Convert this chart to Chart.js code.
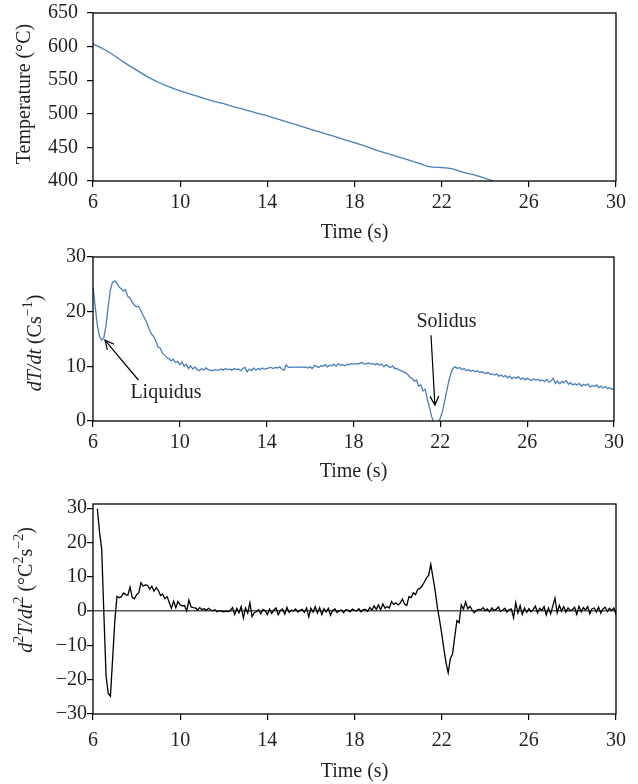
<!DOCTYPE html>
<html lang="en">

<head>
    <meta charset="UTF-8" />
    <title>Cooling curve - T, dT/dt, d2T/dt2</title>
    <script src="https://cdn.jsdelivr.net/npm/chart.js"></script>
    <style>
        body { margin: 0; background: #fff; }
        canvas { display: block; }
    </style>
</head>

<body>
    <canvas id="temp" width="638" height="246"></canvas>
    <canvas id="rate" width="638" height="244"></canvas>
    <canvas id="accel" width="638" height="294"></canvas>

    <script>
        // ---- data ----
        const timeTicks = [6, 10, 14, 18, 22, 26, 30];
        const tempTicks = [400, 450, 500, 550, 600, 650];
        const rateTicks = [0, 10, 20, 30];
        const accelTicks = [-30, -20, -10, 0, 10, 20, 30];

        const tempTimes = [6, 6.5, 7, 7.5, 8, 8.5, 9, 9.5, 10, 10.5, 11, 11.5, 12, 12.5, 13, 13.5, 14, 14.5,
            15, 15.5, 16, 16.5, 17, 17.5, 18, 18.5, 19, 19.5, 20, 20.5, 21, 21.5, 22, 22.5, 23, 23.5, 24, 24.4];
        const temperature = [604, 596, 586, 575, 565, 555, 547, 540, 534, 529, 524, 519, 515, 510, 506, 501, 497, 492,
            487, 482, 477, 472, 467, 462, 457, 452, 446, 441, 436, 431, 426, 421, 420, 418, 413, 409, 404, 400];

        const rateTimes = [
            6.0, 6.1, 6.2, 6.3, 6.4, 6.5, 6.6, 6.7, 6.8, 6.9,
            7.0, 7.1, 7.2, 7.3, 7.4, 7.5, 7.6, 7.7, 7.8, 7.9,
            8.0, 8.1, 8.2, 8.3, 8.4, 8.5, 8.6, 8.7, 8.8, 8.9,
            9.0, 9.1, 9.2, 9.3, 9.4, 9.5, 9.6, 9.7, 9.8, 9.9,
            10.0, 10.1, 10.2, 10.3, 10.4, 10.5, 10.6, 10.7, 10.8, 10.9,
            11.0, 11.1, 11.2, 11.3, 11.4, 11.5, 11.6, 11.7, 11.8, 11.9,
            12.0, 12.1, 12.2, 12.3, 12.4, 12.5, 12.6, 12.7, 12.8, 12.9,
            13.0, 13.1, 13.2, 13.3, 13.4, 13.5, 13.6, 13.7, 13.8, 13.9,
            14.0, 14.1, 14.2, 14.3, 14.4, 14.5, 14.6, 14.7, 14.8, 14.9,
            15.0, 15.1, 15.2, 15.3, 15.4, 15.5, 15.6, 15.7, 15.8, 15.9,
            16.0, 16.1, 16.2, 16.3, 16.4, 16.5, 16.6, 16.7, 16.8, 16.9,
            17.0, 17.1, 17.2, 17.3, 17.4, 17.5, 17.6, 17.7, 17.8, 17.9,
            18.0, 18.1, 18.2, 18.3, 18.4, 18.5, 18.6, 18.7, 18.8, 18.9,
            19.0, 19.1, 19.2, 19.3, 19.4, 19.5, 19.6, 19.7, 19.8, 19.9,
            20.0, 20.1, 20.2, 20.3, 20.4, 20.5, 20.6, 20.7, 20.8, 20.9,
            21.0, 21.1, 21.2, 21.3, 21.4, 21.5, 21.6, 21.7, 21.8, 21.9,
            22.0, 22.1, 22.2, 22.3, 22.4, 22.5, 22.6, 22.7, 22.8, 22.9,
            23.0, 23.1, 23.2, 23.3, 23.4, 23.5, 23.6, 23.7, 23.8, 23.9,
            24.0, 24.1, 24.2, 24.3, 24.4, 24.5, 24.6, 24.7, 24.8, 24.9,
            25.0, 25.1, 25.2, 25.3, 25.4, 25.5, 25.6, 25.7, 25.8, 25.9,
            26.0, 26.1, 26.2, 26.3, 26.4, 26.5, 26.6, 26.7, 26.8, 26.9,
            27.0, 27.1, 27.2, 27.3, 27.4, 27.5, 27.6, 27.7, 27.8, 27.9,
            28.0, 28.1, 28.2, 28.3, 28.4, 28.5, 28.6, 28.7, 28.8, 28.9,
            29.0, 29.1, 29.2, 29.3, 29.4, 29.5, 29.6, 29.7, 29.8, 29.9,
            30.0];

        const coolingRate = [
            24.5, 21, 17.5, 15.5, 14.8, 15.2, 17.5, 21, 24, 25.4,
            25.6, 25.2, 24.5, 24.2, 23.8, 24.0, 22.8, 22.5, 21.8, 21.2,
            20.9, 21.0, 20.2, 19.4, 18.6, 17.8, 16.6, 15.9, 15.4, 14.6,
            13.5, 13.3, 12.4, 12.0, 11.6, 11.4, 11.0, 11.3, 10.7, 10.9,
            10.3, 10.8, 10.0, 10.4, 9.6, 10.1, 9.5, 9.9, 9.4, 9.2,
            9.6, 9.3, 9.7, 9.4, 9.3, 9.2, 9.4, 9.3, 9.3, 9.5,
            9.3, 9.6, 9.4, 9.5, 9.3, 9.6, 9.4, 9.5, 9.2, 9.6,
            9.8, 9.0, 9.5, 9.2, 9.7, 9.3, 9.6, 9.4, 9.7, 9.5,
            9.6, 9.7, 9.8, 9.6, 9.8, 9.7, 9.9, 9.5, 9.3, 10.3,
            9.8, 9.8, 9.9, 9.8, 9.9, 9.8, 9.9, 9.8, 9.9, 9.7,
            9.9, 9.6, 10.2, 10.0, 9.8, 10.1, 10.0, 10.3, 9.9, 10.2,
            10.1, 10.4, 10.0, 10.5, 10.2, 10.3, 10.1, 10.4, 10.3, 10.5,
            10.4, 10.5, 10.4, 10.6, 10.7, 10.4, 10.5, 10.6, 10.4, 10.5,
            10.3, 10.5, 10.2, 10.4, 9.9, 10.3, 10.0, 9.8, 10.1, 9.6,
            9.6, 9.3, 9.2, 9.0, 8.8, 8.5, 8.0, 7.8, 7.3, 7.5,
            6.4, 6.6, 5.5, 5.8, 4.0, 2.5, 0.8, -0.3, -0.5, -0.2,
            0.5, 1.8, 3.6, 5.6, 7.5, 8.9, 9.7, 9.9, 9.6, 9.8,
            9.4, 9.6, 9.2, 9.4, 9.1, 9.3, 9.0, 9.2, 8.9, 9.0,
            8.8, 8.7, 8.9, 8.5, 8.6, 8.4, 8.6, 8.2, 8.4, 8.1,
            8.3, 7.9, 8.2, 7.7, 8.0, 7.8, 8.1, 7.6, 7.9, 7.5,
            7.8, 7.6, 7.4, 7.7, 7.5, 7.6, 7.3, 7.5, 7.2, 7.6,
            7.1, 7.3, 7.8, 6.9, 7.3, 6.8, 7.2, 7.0, 7.4, 6.7,
            7.0, 6.6, 6.8, 6.6, 6.9, 6.4, 6.7, 6.5, 6.8, 6.2,
            6.5, 6.3, 6.6, 6.1, 6.4, 6.0, 6.3, 5.9, 6.1, 5.8,
            5.9];

        // second derivative starts at 6.2 s
        const accelTimes = rateTimes.slice(2);
        const secondDeriv = [
            29.8, 23, 18, -1, -19, -24, -24.8, -14,
            -3, 4.3, 3.9, 4.2, 5.3, 4.8, 4.6, 7.0, 4.0, 3.6,
            4.8, 5.3, 8.3, 7.3, 7.6, 7.5, 6.4, 7.2, 5.8, 6.8,
            6.0, 4.5, 4.9, 3.6, 4.2, 2.5, 0.8, 2.9, 1.0, 2.8,
            1.8, 1.5, 1.6, 0.0, 3.2, 1.2, 1.0, 0.9, 0.3, 1.0,
            0.4, 0.7, 0.2, 0.8, 0.3, 0.1, 0.4, -0.2, 0.1, -0.1,
            -0.2, 0.0, -0.2, 0.1, 1.0, -1.0, 0.8, -0.5, 1.3, -2.0,
            0.9, -0.6, 2.4, -1.6, -0.5, -0.2, 0.4, -0.8, 0.5, 0.1,
            -1.0, 0.6, -0.7, 0.3, 0.9, -1.1, 0.2, 0.6, -0.9, 1.1,
            -0.4, 0.3, 0.0, 0.6, -0.3, 0.2, 0.5, -0.4, 0.9, -1.7,
            0.8, -0.3, 1.3, -0.6, 1.0, -1.0, 0.7, -0.3, 0.8, -1.2,
            0.2, 0.6, -0.4, 0.1, 0.3, -0.5, 0.4, 0.3, -0.2, 0.6,
            0.2, 0.1, 0.7, -0.2, 0.4, 0.5, -0.1, 1.0, 0.3, 1.5,
            0.5, 1.8, 0.3, 2.1, 0.8, 1.3, 0.9, 2.8, 1.9, 2.4,
            1.8, 2.3, 3.5, 2.0, 1.7, 4.2, 3.9, 5.3, 4.8, 6.3,
            6.6, 7.3, 8.4, 9.6, 10.4, 13.6, 9.8, 6.0, 1.2, -2.5,
            -6.5, -11.0, -15.0, -18.0, -13.8, -12.5, -7.5, -2.8, -3.4, 1.8,
            0.6, 2.6, 0.7, 1.4, 0.3, -0.5, 0.2, 0.5, 0.4, 1.0,
            0.1, 0.6, -0.2, 0.9, 0.2, 0.5, 1.2, -0.1, 0.3, 0.8,
            -0.3, 0.4, 0.6, -2.0, 2.4, -0.6, 1.6, -1.0, 0.9, -0.4,
            0.7, -0.2, 0.5, 1.4, -0.5, 0.8, 0.2, 1.3, -1.1, 0.9,
            -0.8, 1.5, 3.8, -0.5, 1.7, 0.0, 1.3, -0.3, 0.9, 0.1,
            0.4, 1.1, -1.0, 1.4, -0.2, 1.0, 0.3, 1.3, -0.8, 0.7,
            0.9, -0.3, 1.2, -0.6, 0.6, 1.1, -0.1, 0.8, 0.2, 0.9,
            -1.0];

        // ---- styling ----
        const FONT = '"Liberation Serif", "Times New Roman", serif';
        const INK = '#231f20';
        const BLUE = '#4a7ebb';
        Chart.defaults.font.family = FONT;
        Chart.defaults.font.size = 20;
        Chart.defaults.color = INK;

        function points(xs, ys) {
            return xs.map((x, i) => ({ x: x, y: ys[i] }));
        }

        // black box round the plot area
        const frame = {
            id: 'frame',
            afterDraw(chart) {
                const a = chart.chartArea, ctx = chart.ctx;
                ctx.save();
                ctx.strokeStyle = '#000';
                ctx.lineWidth = 1.3;
                ctx.strokeRect(a.left, a.top, a.right - a.left, a.bottom - a.top);
                ctx.restore();
            }
        };

        // rotated y title with italic parts and superscripts
        function yTitle(parts, cx, dy) {
            return {
                id: 'yTitle',
                afterDraw(chart) {
                    const ctx = chart.ctx, a = chart.chartArea;
                    const size = 20;
                    const fontOf = p => (p.i ? 'italic ' : '') + (p.s ? Math.round(size * 0.68) : size) + 'px ' + FONT;
                    ctx.save();
                    const widths = parts.map(p => { ctx.font = fontOf(p); return ctx.measureText(p.t).width; });
                    const total = widths.reduce((s, w) => s + w, 0);
                    ctx.translate(cx, (a.top + a.bottom) / 2 + dy);
                    ctx.rotate(-Math.PI / 2);
                    ctx.fillStyle = INK;
                    ctx.textBaseline = 'middle';
                    let pos = -total / 2;
                    parts.forEach((p, i) => {
                        ctx.font = fontOf(p);
                        ctx.fillText(p.t, pos, p.s ? -size * 0.4 : 0);
                        pos += widths[i];
                    });
                    ctx.restore();
                }
            };
        }

        // text labels with arrows (Liquidus / Solidus)
        function notes(list) {
            return {
                id: 'notes',
                afterDatasetsDraw(chart) {
                    const ctx = chart.ctx, x = chart.scales.x, y = chart.scales.y;
                    ctx.save();
                    ctx.strokeStyle = '#000';
                    ctx.fillStyle = INK;
                    ctx.lineWidth = 1.2;
                    ctx.font = '20px ' + FONT;
                    ctx.textAlign = 'center';
                    ctx.textBaseline = 'middle';
                    list.forEach(n => {
                        ctx.fillText(n.text, x.getPixelForValue(n.at[0]), y.getPixelForValue(n.at[1]));
                        const x0 = x.getPixelForValue(n.from[0]), y0 = y.getPixelForValue(n.from[1]);
                        const x1 = x.getPixelForValue(n.to[0]), y1 = y.getPixelForValue(n.to[1]);
                        const ang = Math.atan2(y1 - y0, x1 - x0);
                        ctx.beginPath();
                        ctx.moveTo(x0, y0);
                        ctx.lineTo(x1, y1);
                        ctx.moveTo(x1 - 10 * Math.cos(ang - 0.45), y1 - 10 * Math.sin(ang - 0.45));
                        ctx.lineTo(x1, y1);
                        ctx.lineTo(x1 - 10 * Math.cos(ang + 0.45), y1 - 10 * Math.sin(ang + 0.45));
                        ctx.stroke();
                    });
                    ctx.restore();
                }
            };
        }

        // typographic minus for negative tick labels
        const minusLabel = v => String(v).replace('-', '\u2212');

        function options(c) {
            return {
                responsive: false,
                animation: false,
                events: [],
                layout: { padding: { top: c.top, right: c.right, bottom: 0, left: 0 } },
                plugins: { legend: { display: false }, tooltip: { enabled: false } },
                scales: {
                    x: {
                        type: 'linear',
                        min: 6,
                        max: 30,
                        afterBuildTicks: s => { s.ticks = timeTicks.map(v => ({ value: v })); },
                        ticks: { padding: c.xPad, maxRotation: 0, color: INK },
                        grid: { drawOnChartArea: false, tickLength: 6, tickColor: '#000', lineWidth: 1.2 },
                        border: { display: false },
                        title: {
                            display: true, text: 'Time (s)', color: INK,
                            padding: { top: 0, bottom: c.titlePad }
                        },
                        afterFit: s => { s.height = c.xHeight; s.paddingLeft = 0; s.paddingRight = 0; }
                    },
                    y: {
                        type: 'linear',
                        min: c.yMin,
                        max: c.yMax,
                        afterBuildTicks: s => { s.ticks = c.yTicks.map(v => ({ value: v })); },
                        ticks: { padding: c.yPad, color: INK, callback: minusLabel },
                        grid: c.yGrid || { drawOnChartArea: false, tickLength: 6, tickColor: '#000', lineWidth: 1.2 },
                        border: { display: false },
                        afterFit: s => { s.width = 93; s.paddingTop = 0; s.paddingBottom = 0; }
                    }
                }
            };
        }

        new Chart(document.getElementById('temp'), {
            type: 'line',
            data: {
                datasets: [{
                    data: points(tempTimes, temperature),
                    borderColor: BLUE,
                    borderWidth: 1.3,
                    pointRadius: 0,
                    cubicInterpolationMode: 'monotone'
                }]
            },
            options: options({
                top: 13, right: 22, xHeight: 65, xPad: 4, titlePad: 1,
                yMin: 400, yMax: 650, yTicks: tempTicks, yPad: 9
            }),
            plugins: [frame, yTitle([{ t: 'Temperature (°C)' }], 25, -3)]
        });

        new Chart(document.getElementById('rate'), {
            type: 'line',
            data: {
                datasets: [{
                    data: points(rateTimes, coolingRate),
                    borderColor: BLUE,
                    borderWidth: 1.3,
                    pointRadius: 0,
                    tension: 0
                }]
            },
            options: options({
                top: 11, right: 24, xHeight: 69, xPad: 4, titlePad: 6,
                yMin: 0, yMax: 30, yTicks: rateTicks, yPad: 1
            }),
            plugins: [
                frame,
                yTitle([{ t: 'dT/dt', i: true }, { t: ' (Cs' }, { t: '−1', s: true }, { t: ')' }], 36, 4),
                notes([
                    { text: 'Liquidus', at: [9.36, 5.1], from: [8.09, 7.5], to: [6.55, 14.8] },
                    { text: 'Solidus', at: [22.28, 18.1], from: [21.57, 15.7], to: [21.75, 2.9] }
                ])
            ]
        });

        new Chart(document.getElementById('accel'), {
            type: 'line',
            data: {
                datasets: [{
                    data: points(accelTimes, secondDeriv),
                    borderColor: '#000',
                    borderWidth: 1.3,
                    pointRadius: 0,
                    tension: 0
                }]
            },
            options: options({
                top: 14, right: 22, xHeight: 70, xPad: 9, titlePad: 0,
                yMin: -30, yMax: 31.2, yTicks: accelTicks, yPad: 0,
                yGrid: {
                    drawOnChartArea: true,
                    tickLength: 6,
                    tickColor: '#000',
                    tickWidth: 1.2,
                    color: ctx => (ctx.tick && ctx.tick.value === 0 ? '#555' : 'rgba(0,0,0,0)'),
                    lineWidth: ctx => (ctx.tick && ctx.tick.value === 0 ? 1.6 : 1.2)
                }
            }),
            plugins: [
                frame,
                yTitle([
                    { t: 'd', i: true }, { t: '2', s: true }, { t: 'T/dt', i: true }, { t: '2', s: true },
                    { t: ' (°C' }, { t: '2', s: true }, { t: 's' }, { t: '−2', s: true }, { t: ')' }
                ], 27, -19)
            ]
        });
    </script>
</body>

</html>
